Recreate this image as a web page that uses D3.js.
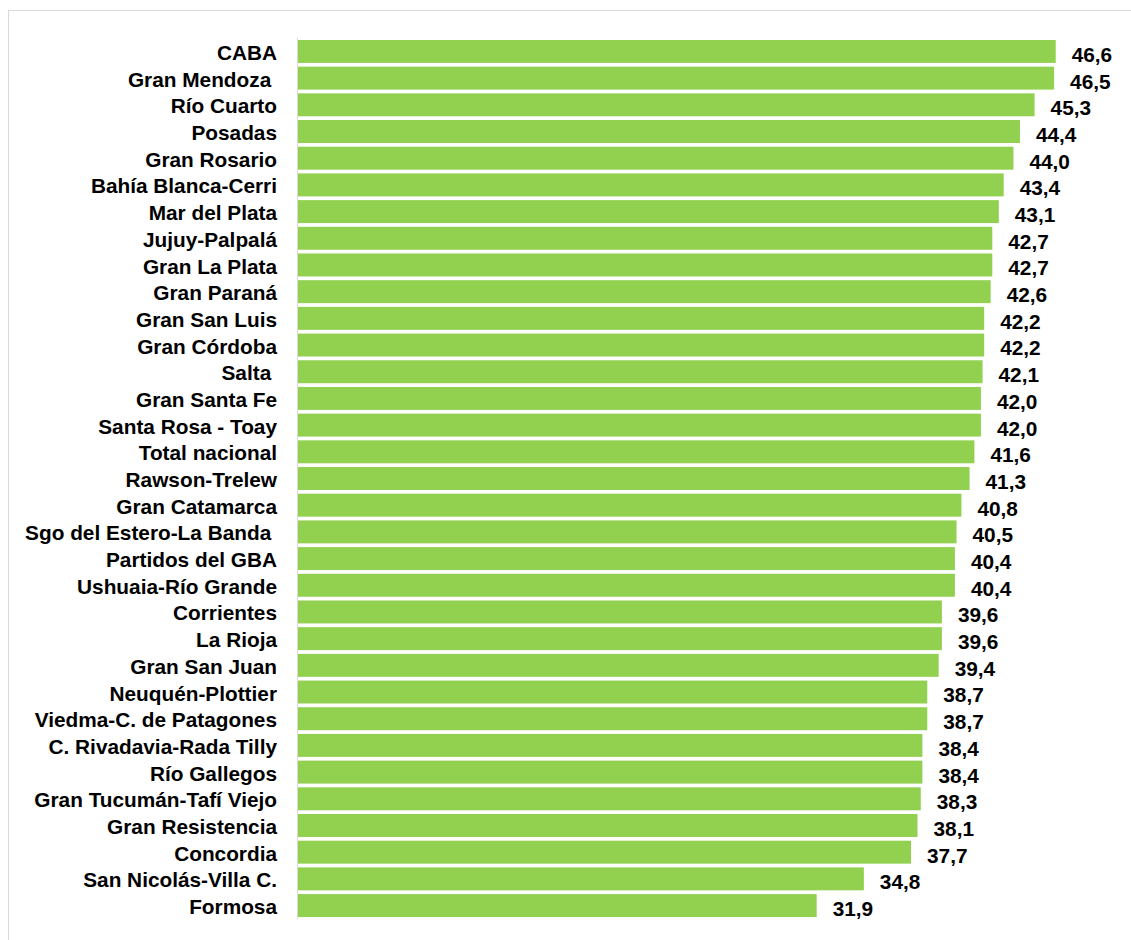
<!doctype html>
<html>
<head>
  <meta charset="utf-8">
  <title>Aglomerados</title>
  <script src="https://d3js.org/d3.v7.min.js"></script>
  <style>
    body { margin: 0; background: #fff; }
    text { font-family: "Liberation Sans", Arial, sans-serif; font-weight: bold; fill: #000; white-space: pre; }
  </style>
</head>
<body>
  <svg width="1131" height="940"></svg>
  <script>
  var categories = ["CABA", "Gran Mendoza ", "Río Cuarto", "Posadas", "Gran Rosario",
    "Bahía Blanca-Cerri", "Mar del Plata", "Jujuy-Palpalá", "Gran La Plata", "Gran Paraná",
    "Gran San Luis", "Gran Córdoba", "Salta ", "Gran Santa Fe", "Santa Rosa - Toay",
    "Total nacional", "Rawson-Trelew", "Gran Catamarca", "Sgo del Estero-La Banda ",
    "Partidos del GBA", "Ushuaia-Río Grande", "Corrientes", "La Rioja", "Gran San Juan",
    "Neuquén-Plottier", "Viedma-C. de Patagones", "C. Rivadavia-Rada Tilly", "Río Gallegos",
    "Gran Tucumán-Tafí Viejo", "Gran Resistencia", "Concordia", "San Nicolás-Villa C.", "Formosa"];

  var values = [46.6, 46.5, 45.3, 44.4, 44.0, 43.4, 43.1, 42.7, 42.7, 42.6,
    42.2, 42.2, 42.1, 42.0, 42.0, 41.6, 41.3, 40.8, 40.5, 40.4,
    40.4, 39.6, 39.6, 39.4, 38.7, 38.7, 38.4, 38.4, 38.3, 38.1,
    37.7, 34.8, 31.9];

  var data = categories.map(function(c, i) { return {name: c, value: values[i]}; });

  var svg = d3.select("svg");

  // light frame around the chart area
  svg.append("rect")
      .attr("x", 8.5).attr("y", 10.5)
      .attr("width", 1140).attr("height", 950)
      .attr("fill", "none")
      .attr("stroke", "#d9d9d9");

  var x = d3.scaleLinear().domain([0, 50]).range([298, 1111]);
  var y = d3.scaleBand().domain(categories).range([38.1, 918.9])
      .paddingInner(0.14).paddingOuter(0.07);

  svg.selectAll(".bar")
    .data(data)
    .enter().append("rect")
      .attr("class", "bar")
      .attr("x", x(0))
      .attr("y", function(d) { return y(d.name); })
      .attr("width", function(d) { return x(d.value) - x(0); })
      .attr("height", y.bandwidth())
      .attr("fill", "#92d050");

  // category axis line
  svg.append("line")
      .attr("x1", x(0) - 0.5).attr("x2", x(0) - 0.5)
      .attr("y1", y.range()[0]).attr("y2", y.range()[1])
      .attr("stroke", "#d9d9d9");

  svg.selectAll(".cat")
    .data(data)
    .enter().append("text")
      .attr("class", "cat")
      .attr("x", 277)
      .attr("y", function(d) { return y(d.name) + y.bandwidth() / 2; })
      .attr("dy", "0.41em")
      .style("font-size", "20.8px")
      .attr("text-anchor", "end")
      .text(function(d) { return d.name; });

  var fmt = function(v) { return v.toFixed(1).replace(".", ","); };

  svg.selectAll(".val")
    .data(data)
    .enter().append("text")
      .attr("class", "val")
      .attr("x", function(d) { return x(d.value) + 16; })
      .attr("y", function(d) { return y(d.name) + y.bandwidth() / 2; })
      .attr("dy", "0.5em")
      .style("font-size", "20.8px")
      .text(function(d) { return fmt(d.value); });
  </script>
</body>
</html>
